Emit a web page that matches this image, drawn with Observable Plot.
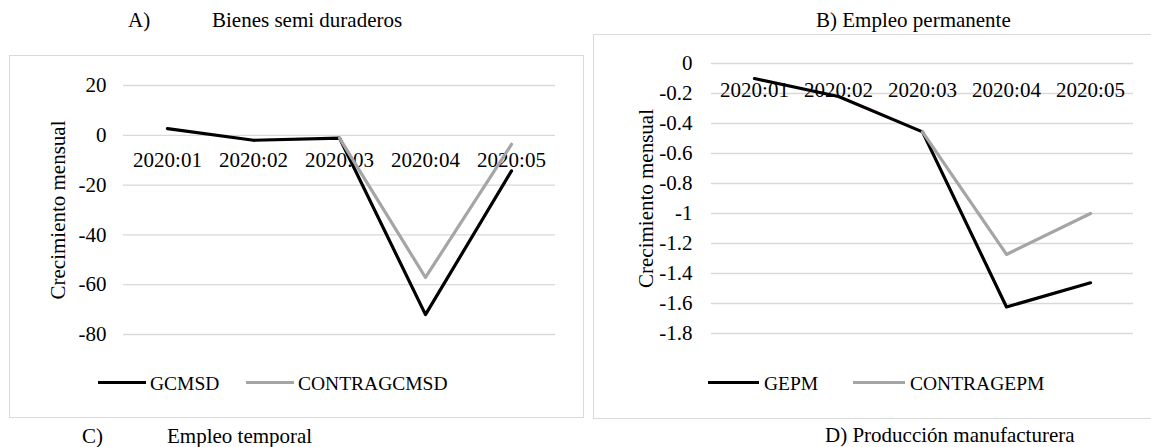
<!DOCTYPE html>
<html><head><meta charset="utf-8">
<script src="https://cdn.jsdelivr.net/npm/d3@7"></script>
<script src="https://cdn.jsdelivr.net/npm/@observablehq/plot@0.6"></script>
<style>
body{margin:0;background:#fff;font-family:'Liberation Serif',serif;}
#page{position:relative;width:1151px;height:447px;overflow:hidden;font-family:'Liberation Serif',serif;color:#000;background:#fff;}
.t{position:absolute;font-family:'Liberation Serif',serif;line-height:1;white-space:nowrap;}
.panel{position:absolute;border:1px solid #d9d9d9;box-sizing:border-box;}
.sw{position:absolute;height:3px;}
.chart{position:absolute;font-family:'Liberation Serif',serif;}
</style></head><body><div id="page"></div>
<script>
const categories = ["2020:01","2020:02","2020:03","2020:04","2020:05"];
const gcmsd = [2.7, -2.0, -1.1, -72.0, -14.3];
const contraGcmsd = [null, null, -1.1, -57.1, -3.6];
const gepm = [-0.10, -0.22, -0.456, -1.623, -1.462];
const contraGepm = [null, null, -0.456, -1.273, -1.0];
const yTicksA = [20, 0, -20, -40, -60, -80];
const yTicksB = [0, -0.2, -0.4, -0.6, -0.8, -1, -1.2, -1.4, -1.6, -1.8];
const yTitle = "Crecimiento mensual";
const colors = {main: "#000000", contra: "#a5a5a5", grid: "#d9d9d9"};
const FONT = "'Liberation Serif', serif";

const page = document.getElementById("page");

function addText(txt, left, top, size) {
  const d = document.createElement("div");
  d.className = "t";
  d.textContent = txt;
  d.style.left = left + "px";
  d.style.top = top + "px";
  d.style.fontSize = size + "px";
  d.style.fontFamily = FONT;
  page.appendChild(d);
}
function addBox(cls, left, top, w, h, bg) {
  const d = document.createElement("div");
  d.className = cls;
  d.style.left = left + "px"; d.style.top = top + "px";
  d.style.width = w + "px"; d.style.height = h + "px";
  if (bg) d.style.background = bg;
  page.appendChild(d);
}

function makeChart(main, contra, ticks, o) {
  const rows = categories.map((c, i) => ({cat: c, v: main[i]}));
  const rows2 = categories.map((c, i) => ({cat: c, v: contra[i]}));
  const svg = Plot.plot({
    width: o.width, height: o.height,
    marginLeft: o.ml, marginRight: o.mr, marginTop: o.mt, marginBottom: o.mb,
    style: {fontFamily: FONT, fontSize: "21px", color: "#000", background: "transparent", overflow: "visible"},
    x: {type: "point", domain: categories, padding: 0.5, axis: null},
    y: {domain: [d3.min(ticks), d3.max(ticks)], ticks: ticks, tickSize: 0, tickPadding: o.tp, tickFormat: d => String(d), label: null},
    marks: [
      Plot.ruleY(ticks, {stroke: colors.grid, strokeWidth: 1.3}),
      Plot.text(categories, {x: d => d, y: () => 0, dy: o.xdy, fontSize: 21, fontFamily: FONT, fill: "#000"}),
      Plot.text([yTitle], {frameAnchor: "left", textAnchor: "middle", rotate: -90, dx: o.titleDx, fontSize: 21, fontFamily: FONT, fill: "#000"}),
      Plot.line(rows, {x: "cat", y: "v", stroke: colors.main, strokeWidth: 3.2, strokeLinejoin: "round"}),
      Plot.line(rows2, {x: "cat", y: "v", stroke: colors.contra, strokeWidth: 3.2, strokeLinejoin: "round"})
    ]
  });
  svg.classList.add("chart");
  svg.style.fontFamily = FONT;
  svg.style.left = o.left + "px";
  svg.style.top = o.top + "px";
  page.appendChild(svg);
}

// panels (borders)
addBox("panel", 9, 55, 575, 363);
addBox("panel", 593, 34, 570, 385);

// Chart A
makeChart(gcmsd, contraGcmsd, yTicksA, {left: 10, top: 56, width: 573, height: 361, ml: 113, mr: 28, mt: 29, mb: 83, tp: 17, xdy: 25, titleDx: -65});
// Chart B
makeChart(gepm, contraGepm, yTicksB, {left: 594, top: 35, width: 557, height: 383, ml: 117, mr: 18, mt: 28, mb: 85, tp: 19, xdy: 27, titleDx: -65});

// titles
addText("A)", 128, 10, 21);
addText("Bienes semi duraderos", 212, 10, 21);
addText("B) Empleo permanente", 816, 10, 21);
addText("C)", 82, 426, 21);
addText("Empleo temporal", 167, 426, 21);
addText("D) Producción manufacturera", 825, 425, 21);

// legends
addBox("sw", 98, 381, 48, 3, colors.main);
addText("GCMSD", 150, 374, 19.5);
addBox("sw", 246, 381, 48, 3, colors.contra);
addText("CONTRAGCMSD", 298, 374, 19.5);
addBox("sw", 708, 381, 51, 3, colors.main);
addText("GEPM", 764, 374, 19.5);
addBox("sw", 853, 381, 52, 3, colors.contra);
addText("CONTRAGEPM", 910, 374, 19.5);
</script>
</body></html>
